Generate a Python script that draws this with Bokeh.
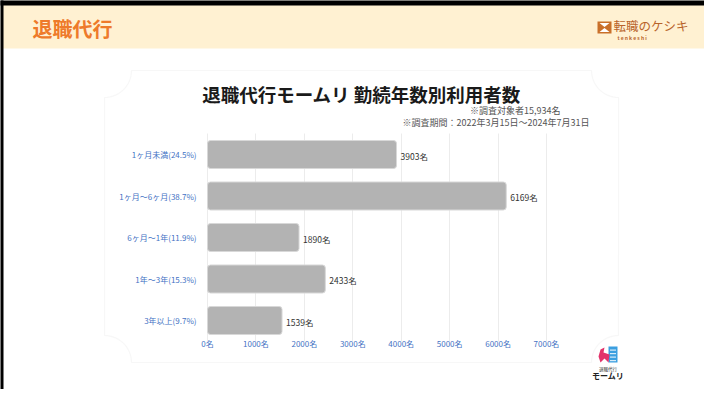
import numpy as np
from bokeh.plotting import figure
from bokeh.models import (ColumnDataSource, Range1d, FixedTicker, Label,
                          BoxAnnotation, PolyAnnotation)
from bokeh.core.properties import value
from bokeh.embed import file_html
from bokeh.resources import INLINE

# ---------------- data ----------------
categories = ["1ヶ月未満(24.5%)", "1ヶ月〜6ヶ月(38.7%)", "6ヶ月〜1年(11.9%)",
              "1年〜3年(15.3%)", "3年以上(9.7%)"]
counts = [3903, 6169, 1890, 2433, 1539]
x_ticks = [0, 1000, 2000, 3000, 4000, 5000, 6000, 7000]
x_tick_labels = ["0名", "1000名", "2000名", "3000名", "4000名", "5000名", "6000名", "7000名"]
header_text = "退職代行"
chart_title = "退職代行モームリ 勤続年数別利用者数"
note_1 = "※調査対象者15,934名"
note_2 = "※調査期間：2022年3月15日～2024年7月31日"

FONT = "Noto Sans CJK JP"
BLUE = "#4472c4"

# ---------------- layout constants (pixels) ----------------
W, H = 704, 389
X_ZERO_PX, X_MAX_PX, X_MAX = 207, 546, 7000    # where 0 and 7000 sit
Y_TOP_PX, Y_STEP_PX = 154, 41.5                # centre of first bar, bar pitch

n = len(categories)
ypos = [n - 1 - i for i in range(n)]  # first category at the top
sx = (X_MAX_PX - X_ZERO_PX) / X_MAX
x_range = Range1d(-X_ZERO_PX / sx, (W - X_ZERO_PX) / sx)
y_range = Range1d((n - 1) - (H - Y_TOP_PX) / Y_STEP_PX, (n - 1) + Y_TOP_PX / Y_STEP_PX)

def to_data(xs_px, ys_px):
    """pixel positions of decorations -> main data coordinates"""
    xs_d = [(x - X_ZERO_PX) / sx for x in xs_px]
    ys_d = [(n - 1) - (y - Y_TOP_PX) / Y_STEP_PX for y in ys_px]
    return xs_d, ys_d

p = figure(width=W, height=H, output_backend="svg", toolbar_location=None,
           x_range=x_range, y_range=y_range,
           min_border_left=0, min_border_right=0, min_border_top=0, min_border_bottom=0)
p.outline_line_color = None
p.background_fill_color = "white"
p.border_fill_color = "white"

# helper ranges in pixel coordinates for decorations (y downwards)
p.extra_x_ranges = {"px": Range1d(0, W)}
p.extra_y_ranges = {"py": Range1d(H, 0)}

def px_kw():
    return dict(x_range_name="px", y_range_name="py")

def poly(xs_px, ys_px, **kw):
    xd, yd = to_data(xs_px, ys_px)
    p.add_layout(PolyAnnotation(xs=xd, ys=yd, **kw))

# ---------------- decorations ----------------
p.add_layout(BoxAnnotation(left=0, right=W + 10, top=0, bottom=48, **px_kw(), level="underlay",
                           fill_color="#fff1d2", fill_alpha=1, line_color=None))
p.add_layout(BoxAnnotation(left=-5, right=3, top=-5, bottom=H + 5, **px_kw(), level="underlay",
                           fill_color="black", fill_alpha=1, line_color=None))
p.add_layout(BoxAnnotation(left=-5, right=W + 10, top=-5, bottom=5, **px_kw(), level="underlay",
                           fill_color="black", fill_alpha=1, line_color=None))
p.add_layout(Label(x=32, y=28, text=header_text, **px_kw(),
                   text_font=FONT, text_font_style="bold", text_font_size="20px",
                   text_color="#ee7a2a", text_baseline="middle", text_align="left"))

# tenkeshi logo
p.add_layout(BoxAnnotation(left=597, right=611, top=21, bottom=33, **px_kw(),
                           fill_color="#c9702a", fill_alpha=1, line_color=None))
poly([599, 609, 604], [22.5, 22.5, 26.6], fill_color="white", fill_alpha=1, line_color=None)
poly([599, 609, 604], [31.5, 31.5, 27.4], fill_color="white", fill_alpha=1, line_color=None)
p.add_layout(Label(x=613, y=25, text="転職のケシキ", **px_kw(),
                   text_font=FONT, text_font_size="12.5px", text_color="#b8632a",
                   text_baseline="middle", text_align="left"))
p.add_layout(Label(x=617, y=37, text="t   e   n   k   e   s   h   i", **px_kw(),
                   text_font=FONT, text_font_size="5px",
                   text_font_style="bold", text_color="#b8632a",
                   text_baseline="middle", text_align="left"))

# card outline with concave corners
L, R, T, B, rad = 104, 618, 70, 362, 27
def arc(cx, cy, a0, a1):
    a = np.linspace(a0, a1, 16)
    return list(cx + rad * np.cos(a)), list(cy + rad * np.sin(a))
cxs, cys = [], []
for (cx, cy, a0, a1) in [(L, T, np.pi / 2, 0), (R, T, np.pi, np.pi / 2),
                         (R, B, 3 * np.pi / 2, np.pi), (L, B, 0, -np.pi / 2)]:
    ax, ay = arc(cx, cy, a0, a1)
    cxs += ax
    cys += ay
poly(cxs, cys, level="underlay", fill_alpha=0, line_color="#e6e6e6", line_width=1.2)

# chart title and notes
p.add_layout(Label(x=361, y=93, text=chart_title, **px_kw(),
                   text_font=FONT, text_font_style="bold", text_font_size="18.5px",
                   text_color="#1a1a1a", text_baseline="middle", text_align="center"))
p.add_layout(Label(x=560, y=109.5, text=note_1, **px_kw(),
                   text_font=FONT, text_font_size="9px", text_color="#555555",
                   text_baseline="middle", text_align="right"))
p.add_layout(Label(x=589, y=121.5, text=note_2, **px_kw(),
                   text_font=FONT, text_font_size="9px", text_color="#555555",
                   text_baseline="middle", text_align="right"))

# moumuri logo (bottom right)
p.add_layout(BoxAnnotation(left=608, right=617, top=346, bottom=362, **px_kw(),
                           fill_color="#3b9fe0", fill_alpha=1, line_color=None))
for wy in (349, 352.5, 356, 359.5):
    p.add_layout(BoxAnnotation(left=609.5, right=615.5, top=wy, bottom=wy + 1.2, **px_kw(),
                               fill_color="white", fill_alpha=0.8, line_color=None))
poly([600, 604, 603, 609, 608, 604, 600, 598],
     [349, 347, 352, 354, 362, 358, 362, 356],
     fill_color="#e2336b", fill_alpha=1, line_color=None)
p.add_layout(Label(x=607.5, y=368.5, text="退職代行", **px_kw(),
                   text_font=FONT, text_font_size="4.5px", text_color="#333333",
                   text_baseline="middle", text_align="center"))
p.add_layout(Label(x=607.5, y=375, text="モームリ", **px_kw(),
                   text_font=FONT, text_font_style="bold", text_font_size="8px",
                   text_color="#222222", text_baseline="middle", text_align="center"))

# ---------------- bars ----------------
src = ColumnDataSource(dict(y=ypos, v=counts, lbl=[f"{c}名" for c in counts]))
p.hbar(y="y", right="v", left=0, height=0.675, source=src,
       fill_color="#b3b3b3", line_color="#d8d8d8", line_width=1, border_radius=3)
p.text(x="v", y="y", text="lbl", source=src, x_offset=4, y_offset=1,
       text_font=value(FONT), text_font_size="8.5px", text_color="#333333",
       text_baseline="middle", text_align="left")

# ---------------- axes (placed inside the frame) ----------------
p.xaxis.ticker = FixedTicker(ticks=x_ticks)
p.xaxis.major_label_overrides = {t: l for t, l in zip(x_ticks, x_tick_labels)}
p.xaxis.fixed_location = -0.5 + 6 / Y_STEP_PX
p.yaxis.ticker = FixedTicker(ticks=ypos)
p.yaxis.major_label_overrides = {yv: c for yv, c in zip(ypos, categories)}
p.yaxis.fixed_location = 0
for ax in (p.xaxis, p.yaxis):
    ax.axis_line_color = None
    ax.major_tick_line_color = None
    ax.minor_tick_line_color = None
    ax.major_label_text_color = BLUE
    ax.major_label_text_font = FONT
    ax.major_label_text_font_size = "8px"
p.xaxis.major_label_standoff = -3
p.yaxis.major_label_standoff = 5
p.xgrid.grid_line_color = "#ececec"
p.xgrid.bounds = (0, X_MAX)
p.xgrid.cross_bounds = (-0.5, n - 0.5)
p.ygrid.grid_line_color = None

open("out.html", "w").write(file_html(p, INLINE))
